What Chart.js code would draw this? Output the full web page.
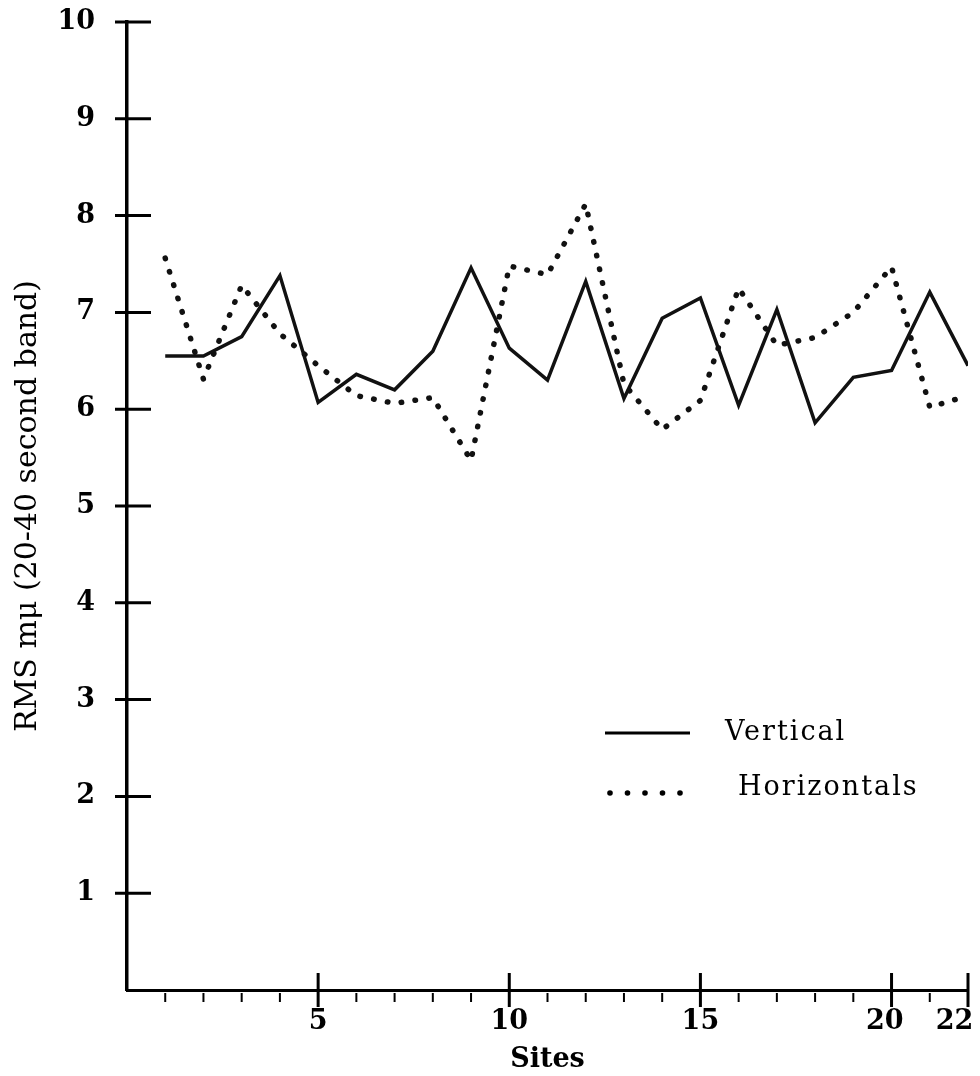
<!DOCTYPE html>
<html>
<head>
<meta charset="utf-8">
<script src="https://cdn.jsdelivr.net/npm/chart.js@4"></script>
<style>
  html, body { margin: 0; padding: 0; background: #fff; }
  #wrap { width: 980px; height: 1076px; position: relative; }
</style>
</head>
<body>
<div id="wrap"><canvas id="c" width="980" height="1076"></canvas></div>
<script>
// ---- data ----
const sites = [1,2,3,4,5,6,7,8,9,10,11,12,13,14,15,16,17,18,19,20,21,22];
const verticalValues   = [6.55,6.55,6.75,7.38,6.07,6.36,6.20,6.60,7.46,6.63,6.30,7.32,6.11,6.94,7.15,6.04,7.03,5.86,6.33,6.40,7.21,6.45];
const horizontalValues = [7.56,6.31,7.28,6.78,6.45,6.14,6.06,6.12,5.47,7.48,7.39,8.12,6.26,5.79,6.09,7.25,6.66,6.74,7.00,7.47,6.02,6.14];
const xTickValues = [5,10,15,20,22];
const xTickLabels = ['5','10','15','20','22'];
const yTickValues = [1,2,3,4,5,6,7,8,9,10];
const yTickLabels = ['1','2','3','4','5','6','7','8','9','10'];
const seriesNames = ['Vertical','Horizontals'];
const xTitle = 'Sites';
const yTitle = 'RMS m\u03bc (20-40 second band)';

const toPoints = (vals) => sites.map((s, i) => ({ x: s, y: vals[i] }));

// custom axis ticks (crossing / minor) and in-chart legend
const decorPlugin = {
  id: 'decor',
  afterDraw(chart) {
    const ctx = chart.ctx;
    const xs = chart.scales.x, ys = chart.scales.y;
    const ca = chart.chartArea;
    ctx.save();
    ctx.strokeStyle = '#000';
    ctx.lineCap = 'butt';
    // y ticks crossing the axis
    ctx.lineWidth = 3;
    yTickValues.forEach(v => {
      const py = ys.getPixelForValue(v);
      ctx.beginPath();
      ctx.moveTo(ca.left - 12, py);
      ctx.lineTo(ca.left + 24, py);
      ctx.stroke();
    });
    // x minor ticks below the axis
    ctx.lineWidth = 2;
    for (let v = 1; v <= 21; v++) {
      if (xTickValues.includes(v)) continue;
      const px = xs.getPixelForValue(v);
      ctx.beginPath();
      ctx.moveTo(px, ca.bottom + 3);
      ctx.lineTo(px, ca.bottom + 12);
      ctx.stroke();
    }
    // x major ticks crossing the axis
    ctx.lineWidth = 3;
    xTickValues.forEach(v => {
      const px = xs.getPixelForValue(v);
      ctx.beginPath();
      ctx.moveTo(px, ca.bottom - 17);
      ctx.lineTo(px, ca.bottom + 17);
      ctx.stroke();
    });
    // legend
    const lx = ca.left + 478;
    const ly1 = ca.top + 711;
    const ly2 = ca.top + 771;
    ctx.lineWidth = 3;
    ctx.beginPath();
    ctx.moveTo(lx, ly1);
    ctx.lineTo(lx + 85, ly1);
    ctx.stroke();
    ctx.fillStyle = '#000';
    for (let k = 0; k < 5; k++) {
      ctx.beginPath();
      ctx.arc(lx + 5 + k * 17.5, ly2, 2.8, 0, Math.PI * 2);
      ctx.fill();
    }
    ctx.font = '27px "DejaVu Serif"';
    ctx.textBaseline = 'middle';
    ctx.textAlign = 'left';
    try { ctx.letterSpacing = '2px'; } catch (e) {}
    ctx.fillText(seriesNames[0], ca.left + 598, ly1);
    ctx.fillText(seriesNames[1], ca.left + 611, ly2 - 5);
    ctx.restore();
  }
};

new Chart(document.getElementById('c'), {
  type: 'line',
  data: {
    datasets: [
      {
        label: seriesNames[0],
        data: toPoints(verticalValues),
        borderColor: '#111',
        borderWidth: 3.5,
        pointRadius: 0,
        tension: 0,
        fill: false,
        borderJoinStyle: 'miter'
      },
      {
        label: seriesNames[1],
        data: toPoints(horizontalValues),
        borderColor: '#111',
        borderWidth: 5.5,
        borderDash: [0.5, 13.5],
        borderCapStyle: 'round',
        pointRadius: 0,
        tension: 0,
        fill: false
      }
    ]
  },
  options: {
    responsive: false,
    animation: false,
    layout: { padding: { top: 22, right: 12, bottom: 0, left: 0 } },
    plugins: {
      legend: { display: false },
      tooltip: { enabled: false }
    },
    scales: {
      x: {
        type: 'linear',
        min: 0,
        max: 22,
        offset: false,
        grid: { display: false, drawTicks: false },
        border: { display: true, color: '#000', width: 3 },
        afterBuildTicks: (s) => { s.ticks = xTickValues.map(v => ({ value: v })); },
        afterFit: (s) => { s.height = 86; s.paddingLeft = 0; s.paddingRight = 0; },
        ticks: {
          autoSkip: false,
          maxRotation: 0,
          padding: 16,
          color: '#000',
          font: { family: '"DejaVu Serif"', size: 27, weight: 'bold' },
          callback: (v) => {
            const i = xTickValues.indexOf(v);
            if (i < 0) return '';
            // last two labels sit slightly left of their ticks in the reference
            if (v === 20) return xTickLabels[i] + '\u2002';
            if (v === 22) return xTickLabels[i] + '\u2002\u2002';
            return xTickLabels[i];
          }
        },
        title: {
          display: true,
          text: xTitle,
          color: '#000',
          font: { family: '"DejaVu Serif"', size: 27, weight: 'bold' },
          padding: { top: 0, bottom: 0 }
        }
      },
      y: {
        type: 'linear',
        min: 0,
        max: 10,
        grid: { display: false, drawTicks: false },
        border: { display: true, color: '#000', width: 3.5 },
        afterBuildTicks: (s) => { s.ticks = yTickValues.map(v => ({ value: v })); },
        afterFit: (s) => { s.width = 127; s.paddingTop = 0; s.paddingBottom = 0; },
        ticks: {
          padding: 32,
          color: '#000',
          font: { family: '"DejaVu Serif"', size: 27, weight: 'bold' },
          callback: (v) => { const i = yTickValues.indexOf(v); return i >= 0 ? yTickLabels[i] : ''; }
        },
        title: {
          display: true,
          text: yTitle,
          color: '#000',
          font: { family: '"DejaVu Serif"', size: 30, weight: 'normal' },
          padding: { top: 10, bottom: 0 }
        }
      }
    }
  },
  plugins: [decorPlugin]
});
</script>
</body>
</html>
